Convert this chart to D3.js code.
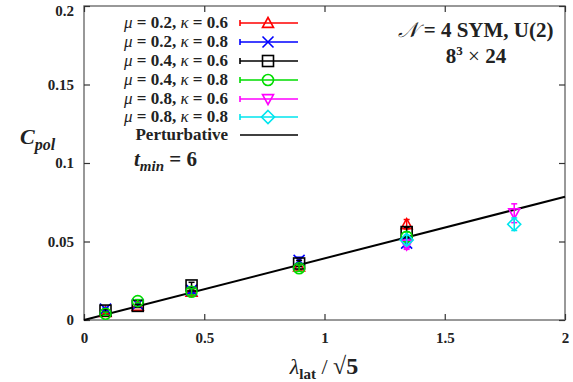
<!DOCTYPE html>
<html><head><meta charset="utf-8">
<script src="https://cdn.jsdelivr.net/npm/d3@7"></script>
<style>
body{margin:0;background:#fff;}
svg{display:block;font-family:"Liberation Serif","Times New Roman",serif;}
</style></head>
<body><svg id="c" width="573" height="382"></svg>
<script>
const xTicks=[0,0.5,1,1.5,2];
const yTicks=[0,0.05,0.1,0.15,0.2];
const xTickLabels=["0","0.5","1","1.5","2"];
const yTickLabels=["0","0.05","0.1","0.15","0.2"];
const seriesNames=[["0.2","0.6"],["0.2","0.8"],["0.4","0.6"],["0.4","0.8"],["0.8","0.6"],["0.8","0.8"]];
const seriesColors=["#ff0000","#0000ff","#000000","#00dd00","#ff00ff","#00e5ee"];
const seriesShapes=["triangle","cross","square","circle","tridown","diamond"];
const xs=[0.0894,0.2236,0.4472,0.8944,1.3416,1.7889];
const s1=[0.005,0.009,0.018,0.034,0.061,null];
const s1e=[0.001,0.001,0.002,0.002,0.003,null];
const s2=[0.007,0.010,0.019,0.038,0.049,null];
const s2e=[0.001,0.001,0.002,0.002,0.003,null];
const s3=[0.006,0.009,0.022,0.036,0.056,null];
const s3e=[0.001,0.001,0.002,0.002,0.003,null];
const s4=[0.004,0.012,0.018,0.033,0.053,null];
const s4e=[0.001,0.001,0.002,0.002,0.003,null];
const s5=[null,null,null,null,0.048,0.068];
const s5e=[null,null,null,null,0.003,0.006];
const s6=[null,null,null,null,0.051,0.061];
const s6e=[null,null,null,null,0.003,0.004];
const seriesVals=[s1,s2,s3,s4,s5,s6];
const seriesErrs=[s1e,s2e,s3e,s4e,s5e,s6e];
const pertX=[0,2];
const pertY=[0,0.0785];

const svg=d3.select("#c");
const L=84,R=565,T=6,B=320;
const x=d3.scaleLinear().domain([0,2]).range([L,R]);
const y=d3.scaleLinear().domain([0,0.2]).range([B,T]);

svg.append("rect").attr("x",L).attr("y",T).attr("width",R-L).attr("height",B-T)
  .attr("fill","none").attr("stroke","#777").attr("stroke-width",1.5);
const tk=6;
const gx=svg.append("g").attr("transform",`translate(0,${B})`)
  .call(d3.axisBottom(x).tickValues(xTicks).tickSizeInner(-tk).tickSizeOuter(0).tickPadding(12).tickFormat((d,i)=>xTickLabels[i]));
const gxt=svg.append("g").attr("transform",`translate(0,${T})`)
  .call(d3.axisTop(x).tickValues(xTicks).tickSizeInner(-tk).tickSizeOuter(0).tickFormat(""));
const gy=svg.append("g").attr("transform",`translate(${L},0)`)
  .call(d3.axisLeft(y).tickValues(yTicks).tickSizeInner(-tk).tickSizeOuter(0).tickPadding(10).tickFormat((d,i)=>yTickLabels[i]));
const gyr=svg.append("g").attr("transform",`translate(${R},0)`)
  .call(d3.axisRight(y).tickValues(yTicks).tickSizeInner(-tk).tickSizeOuter(0).tickFormat(""));
[gx,gxt,gy,gyr].forEach(g=>{g.select(".domain").remove();g.selectAll("line").attr("stroke","#333").attr("stroke-width",1.2);
 g.selectAll("text").attr("font-family","Liberation Serif").attr("font-weight","bold").attr("font-size",15).attr("fill","#222");});
gy.selectAll(".tick").filter(d=>d===0.2).select("text").attr("dy","0.6em");

const line=d3.line().x(d=>x(d[0])).y(d=>y(d[1]));
svg.append("path").attr("d",line(pertX.map((v,i)=>[v,pertY[i]]))).attr("stroke","#000").attr("stroke-width",2).attr("fill","none");

function marker(g,shape,cx,cy,color){
  const s=5.5;
  let el;
  if(shape==="triangle") el=g.append("path").attr("d",`M${cx},${cy-s}L${cx+s},${cy+s*0.8}L${cx-s},${cy+s*0.8}Z`);
  else if(shape==="tridown") el=g.append("path").attr("d",`M${cx},${cy+s}L${cx+s},${cy-s*0.8}L${cx-s},${cy-s*0.8}Z`);
  else if(shape==="square") el=g.append("rect").attr("x",cx-s).attr("y",cy-s).attr("width",2*s).attr("height",2*s);
  else if(shape==="circle") el=g.append("circle").attr("cx",cx).attr("cy",cy).attr("r",s);
  else if(shape==="diamond") el=g.append("path").attr("d",`M${cx},${cy-s-1}L${cx+s+1},${cy}L${cx},${cy+s+1}L${cx-s-1},${cy}Z`);
  else if(shape==="cross") el=g.append("path").attr("d",`M${cx-s},${cy-s}L${cx+s},${cy+s}M${cx-s},${cy+s}L${cx+s},${cy-s}`);
  el.attr("fill","none").attr("stroke",color).attr("stroke-width",1.6);
}

seriesVals.forEach((vals,si)=>{
  const g=svg.append("g");
  const c=seriesColors[si];
  vals.forEach((v,i)=>{
    if(v==null) return;
    const e=seriesErrs[si][i];
    const cx=x(xs[i]);
    g.append("line").attr("x1",cx).attr("x2",cx).attr("y1",y(v-e)).attr("y2",y(v+e)).attr("stroke",c).attr("stroke-width",1.5);
    [v-e,v+e].forEach(w=>g.append("line").attr("x1",cx-3).attr("x2",cx+3).attr("y1",y(w)).attr("y2",y(w)).attr("stroke",c).attr("stroke-width",1.5));
    marker(g,seriesShapes[si],cx,y(v),c);
  });
});

const lg=svg.append("g");
const rowY=[23,42,61,80,99,117];
seriesNames.forEach((n,i)=>{
  const t=lg.append("text").attr("x",228).attr("y",rowY[i]+5).attr("text-anchor","end")
    .attr("font-size",17).attr("font-weight","bold").attr("fill","#222");
  t.append("tspan").attr("font-style","italic").attr("font-weight","normal").text("μ");
  t.append("tspan").text(" = "+n[0]+", ");
  t.append("tspan").attr("font-style","italic").attr("font-weight","normal").text("κ");
  t.append("tspan").text(" = "+n[1]);
  const c=seriesColors[i];
  lg.append("line").attr("x1",240).attr("x2",298).attr("y1",rowY[i]).attr("y2",rowY[i]).attr("stroke",c).attr("stroke-width",1.6);
  lg.append("line").attr("x1",240).attr("x2",240).attr("y1",rowY[i]-3).attr("y2",rowY[i]+3).attr("stroke",c).attr("stroke-width",1.6);
  marker(lg,seriesShapes[i],268,rowY[i],c);
});
lg.append("text").attr("x",228).attr("y",140).attr("text-anchor","end").attr("font-size",17).attr("font-weight","bold").attr("fill","#222").text("Perturbative");
lg.append("line").attr("x1",240).attr("x2",298).attr("y1",135).attr("y2",135).attr("stroke","#000").attr("stroke-width",1.6);

const a1=svg.append("text").attr("x",476).attr("y",37).attr("text-anchor","middle").attr("font-size",21).attr("font-weight","bold").attr("fill","#222");
a1.append("tspan").attr("font-style","italic").attr("font-weight","normal").text("𝒩");
a1.append("tspan").text(" = 4 SYM, U(2)");
const a2=svg.append("text").attr("x",476).attr("y",63).attr("text-anchor","middle").attr("font-size",21).attr("font-weight","bold").attr("fill","#222");
a2.append("tspan").text("8");
a2.append("tspan").attr("font-size",13).attr("dy",-8).text("3");
a2.append("tspan").attr("dy",8).attr("font-weight","normal").text(" × ");
a2.append("tspan").text("24");

const tm=svg.append("text").attr("x",134).attr("y",166).attr("font-size",21).attr("font-weight","bold").attr("font-style","italic").attr("fill","#222");
tm.append("tspan").text("t");
tm.append("tspan").attr("font-size",15).attr("dy",5).text("min");
tm.append("tspan").attr("dy",-5).attr("font-style","normal").text(" = 6");

const cy=svg.append("text").attr("x",20).attr("y",144).attr("font-size",22).attr("font-weight","bold").attr("font-style","italic").attr("fill","#222");
cy.append("tspan").text("C");
cy.append("tspan").attr("font-size",16).attr("dy",6).text("pol");

const xl=svg.append("text").attr("x",324).attr("y",374).attr("text-anchor","middle").attr("font-size",22).attr("fill","#222");
xl.append("tspan").attr("font-style","italic").text("λ");
xl.append("tspan").attr("font-size",15).attr("font-weight","bold").attr("dy",5).text("lat");
xl.append("tspan").attr("dy",-5).text(" / ");
xl.append("tspan").attr("font-weight","bold").attr("font-size",24).text("√5");
</script></body></html>
